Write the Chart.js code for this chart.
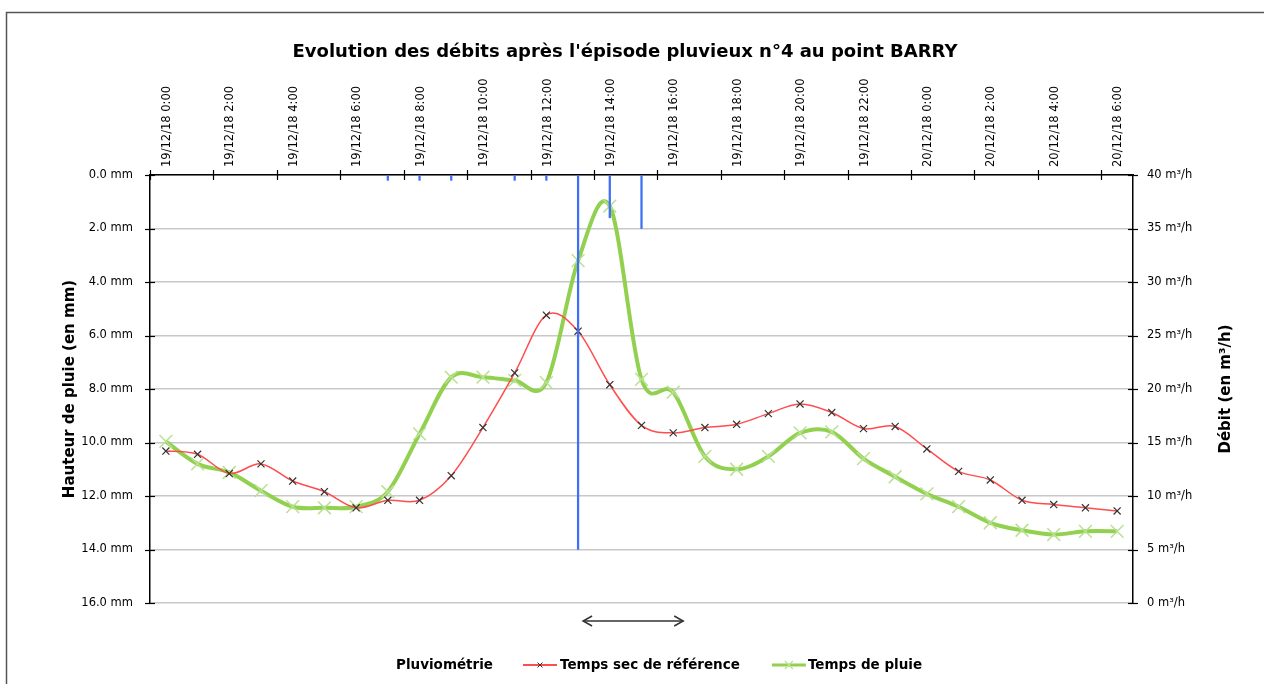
<!DOCTYPE html>
<html>
<head>
<meta charset="utf-8">
<script src="https://cdn.jsdelivr.net/npm/chart.js@4"></script>
<style>
  body { margin: 0; background: #fff; }
  #wrap { position: relative; width: 1264px; height: 684px; }
</style>
</head>
<body>
<div id="wrap"><canvas id="cv"></canvas></div>
<script>
// hourly time steps
var categories = [
  '19/12/18 0:00', '19/12/18 1:00', '19/12/18 2:00', '19/12/18 3:00', '19/12/18 4:00',
  '19/12/18 5:00', '19/12/18 6:00', '19/12/18 7:00', '19/12/18 8:00', '19/12/18 9:00',
  '19/12/18 10:00', '19/12/18 11:00', '19/12/18 12:00', '19/12/18 13:00', '19/12/18 14:00',
  '19/12/18 15:00', '19/12/18 16:00', '19/12/18 17:00', '19/12/18 18:00', '19/12/18 19:00',
  '19/12/18 20:00', '19/12/18 21:00', '19/12/18 22:00', '19/12/18 23:00', '20/12/18 0:00',
  '20/12/18 1:00', '20/12/18 2:00', '20/12/18 3:00', '20/12/18 4:00', '20/12/18 5:00',
  '20/12/18 6:00'
];
// rain height (mm)
var pluvio = [null, null, null, null, null, null, null, 0.2, 0.2, 0.2,
  null, 0.2, 0.2, 14.0, 1.6, 2.0, null, null, null, null,
  null, null, null, null, null, null, null, null, null, null, null];
// flow (m3/h), dry weather reference
var tempsSec = [14.2, 13.9, 12.1, 13.0, 11.4, 10.4, 8.9, 9.6, 9.6, 11.9,
  16.4, 21.5, 26.9, 25.4, 20.4, 16.6, 15.9, 16.4, 16.7, 17.7,
  18.6, 17.8, 16.3, 16.5, 14.4, 12.3, 11.5, 9.6, 9.2, 8.9, 8.6];
// flow (m3/h), rainy weather
var tempsPluie = [15.1, 13.0, 12.2, 10.5, 9.0, 8.9, 9.0, 10.4, 15.8, 21.1,
  21.1, 20.8, 20.6, 32.0, 37.1, 20.9, 19.7, 13.7, 12.5, 13.7,
  15.9, 16.0, 13.5, 11.8, 10.2, 9.0, 7.5, 6.8, 6.4, 6.7, 6.7];

var FONT = 'DejaVu Sans';
var RED = '#ff4d4d', GREEN = '#92d050', GREEN_PT = '#b8e192', BLUE = '#3f6ef7';

function seg(ctx, x1, y1, x2, y2) {
  ctx.beginPath(); ctx.moveTo(x1, y1); ctx.lineTo(x2, y2); ctx.stroke();
}
function cross(ctx, cx, cy, r) {
  seg(ctx, cx - r, cy - r, cx + r, cy + r);
  seg(ctx, cx - r, cy + r, cx + r, cy - r);
}

// spreadsheet-style smoothing: bezier handles at 1/6 of the neighbour span
var smooth = {
  id: 'smooth',
  beforeDatasetsDraw: function(chart) {
    chart.data.datasets.forEach(function(ds, di) {
      var meta = chart.getDatasetMeta(di);
      if (meta.type !== 'line') return;
      meta.dataset.updateControlPoints(chart.chartArea, 'x');
      var pts = meta.data;
      pts.forEach(function(p, i) {
        var prev = pts[i - 1] || p, next = pts[i + 1] || p;
        var dx = (next.x - prev.x) / 6, dy = (next.y - prev.y) / 6;
        p.cp1x = p.x - dx; p.cp1y = p.y - dy;
        p.cp2x = p.x + dx; p.cp2y = p.y + dy;
      });
    });
  }
};

var decor = {
  id: 'decor',
  afterDraw: function(chart) {
    var ctx = chart.ctx, a = chart.chartArea;
    var x = chart.scales.x, y = chart.scales.y, y1 = chart.scales.y1;
    ctx.save();

    // outer frame
    ctx.strokeStyle = '#555'; ctx.lineWidth = 1.5;
    ctx.beginPath();
    ctx.moveTo(6.5, chart.height + 5); ctx.lineTo(6.5, 12.5); ctx.lineTo(chart.width + 5, 12.5);
    ctx.stroke();

    // tick marks crossing the axes
    ctx.strokeStyle = '#000'; ctx.lineWidth = 1.2;
    var half = (x.getPixelForValue(1) - x.getPixelForValue(0)) / 2;
    for (var i = 0; i < categories.length; i += 2) {
      var px = Math.round(x.getPixelForValue(i) - half) + 0.5;
      seg(ctx, px, a.top - 5, px, a.top + 5);
    }
    y.ticks.forEach(function(t, k) {
      var py = Math.round(y.getPixelForTick(k)) + 0.5;
      seg(ctx, a.left - 5, py, a.left + 5, py);
    });
    y1.ticks.forEach(function(t, k) {
      var py = Math.round(y1.getPixelForTick(k)) + 0.5;
      seg(ctx, a.right - 5, py, a.right + 5, py);
    });

    // right axis title, reading upwards
    ctx.fillStyle = '#000';
    ctx.font = 'bold 15px ' + FONT;
    ctx.textAlign = 'center'; ctx.textBaseline = 'middle';
    ctx.save();
    ctx.translate(1226, (a.top + a.bottom) / 2);
    ctx.rotate(-Math.PI / 2);
    ctx.fillText('Débit (en m³/h)', 0, 0);
    ctx.restore();

    // double arrow under the rain peak
    var ax1 = x.getPixelForValue(13) + 5, ax2 = x.getPixelForValue(16) + 10, ay = 621;
    ctx.strokeStyle = '#333'; ctx.lineWidth = 1.5;
    seg(ctx, ax1, ay, ax2, ay);
    ctx.beginPath();
    ctx.moveTo(ax1 + 9, ay - 5); ctx.lineTo(ax1, ay); ctx.lineTo(ax1 + 9, ay + 5);
    ctx.moveTo(ax2 - 9, ay - 5); ctx.lineTo(ax2, ay); ctx.lineTo(ax2 - 9, ay + 5);
    ctx.stroke();

    // legend: keys sit left of each entry
    var ly = 665, lx = 523;
    ctx.font = 'bold 13.5px ' + FONT;
    ctx.textBaseline = 'middle';
    ctx.fillStyle = '#000';
    ctx.textAlign = 'right';
    ctx.fillText('Pluviométrie', lx - 30, ly);
    ctx.textAlign = 'left';
    ctx.strokeStyle = RED; ctx.lineWidth = 2;
    seg(ctx, lx, ly, lx + 34, ly);
    ctx.strokeStyle = '#333'; ctx.lineWidth = 1;
    cross(ctx, lx + 17, ly, 2.5);
    lx += 37;
    ctx.fillText('Temps sec de référence', lx, ly);
    lx += ctx.measureText('Temps sec de référence').width + 32;
    ctx.strokeStyle = GREEN; ctx.lineWidth = 3;
    seg(ctx, lx, ly, lx + 34, ly);
    ctx.strokeStyle = GREEN_PT; ctx.lineWidth = 1.2;
    cross(ctx, lx + 17, ly, 4);
    lx += 36;
    ctx.fillText('Temps de pluie', lx, ly);

    ctx.restore();
  }
};

var tickFont = { family: FONT, size: 11.5 };

new Chart(document.getElementById('cv'), {
  type: 'bar',
  data: {
    labels: categories,
    datasets: [
      {
        label: 'Pluviométrie',
        data: pluvio,
        yAxisID: 'y',
        backgroundColor: BLUE,
        barThickness: 1.6
      },
      {
        type: 'line',
        label: 'Temps sec de référence',
        data: tempsSec,
        yAxisID: 'y1',
        borderColor: RED,
        borderWidth: 1.5,
        tension: 0.4,
        pointStyle: 'crossRot',
        pointRadius: 5,
        pointBorderColor: '#333',
        pointBorderWidth: 1.2
      },
      {
        type: 'line',
        label: 'Temps de pluie',
        data: tempsPluie,
        yAxisID: 'y1',
        borderColor: GREEN,
        borderWidth: 4,
        tension: 0.4,
        pointStyle: 'crossRot',
        pointRadius: 9,
        pointBorderColor: GREEN_PT,
        pointBorderWidth: 1.5
      }
    ]
  },
  options: {
    responsive: true,
    maintainAspectRatio: false,
    animation: false,
    devicePixelRatio: 1,
    layout: { padding: { top: 0, left: 0, right: 14, bottom: 81 } },
    plugins: {
      legend: { display: false },
      tooltip: { enabled: false },
      title: {
        display: true,
        text: "Evolution des débits après l'épisode pluvieux n°4 au point BARRY",
        color: '#000',
        font: { family: FONT, size: 18, weight: 'bold' },
        padding: { top: 42, bottom: 0 }
      }
    },
    scales: {
      x: {
        position: 'top',
        offset: true,
        grid: { display: false },
        border: { display: true, color: '#000', width: 1.5 },
        ticks: {
          autoSkip: false,
          minRotation: 90,
          maxRotation: 90,
          padding: 0,
          labelOffset: 15,
          color: '#000',
          font: tickFont,
          callback: function(v, i) { return i % 2 === 0 ? categories[i] : ''; }
        },
        afterFit: function(s) { s.height = 111.4; }
      },
      y: {
        position: 'left',
        reverse: true,
        min: 0,
        max: 16,
        grid: { color: '#c8c8c8', lineWidth: 1.5, drawTicks: false },
        border: { display: true, color: '#000', width: 1.5 },
        ticks: {
          stepSize: 2,
          padding: 17,
          color: '#000',
          font: tickFont,
          callback: function(v) { return v.toFixed(1) + ' mm'; }
        },
        title: {
          display: true,
          text: 'Hauteur de pluie (en mm)',
          color: '#000',
          font: { family: FONT, size: 15, weight: 'bold' },
          padding: { top: 61, bottom: 0 }
        },
        afterFit: function(s) { s.width = 150; }
      },
      y1: {
        position: 'right',
        min: 0,
        max: 40,
        grid: { drawOnChartArea: false, drawTicks: false },
        border: { display: true, color: '#000', width: 1.5 },
        ticks: {
          stepSize: 5,
          padding: 14,
          color: '#000',
          font: tickFont,
          callback: function(v) { return v + ' m³/h'; }
        },
        afterFit: function(s) { s.width = 117; }
      }
    }
  },
  plugins: [smooth, decor]
});
</script>
</body>
</html>
